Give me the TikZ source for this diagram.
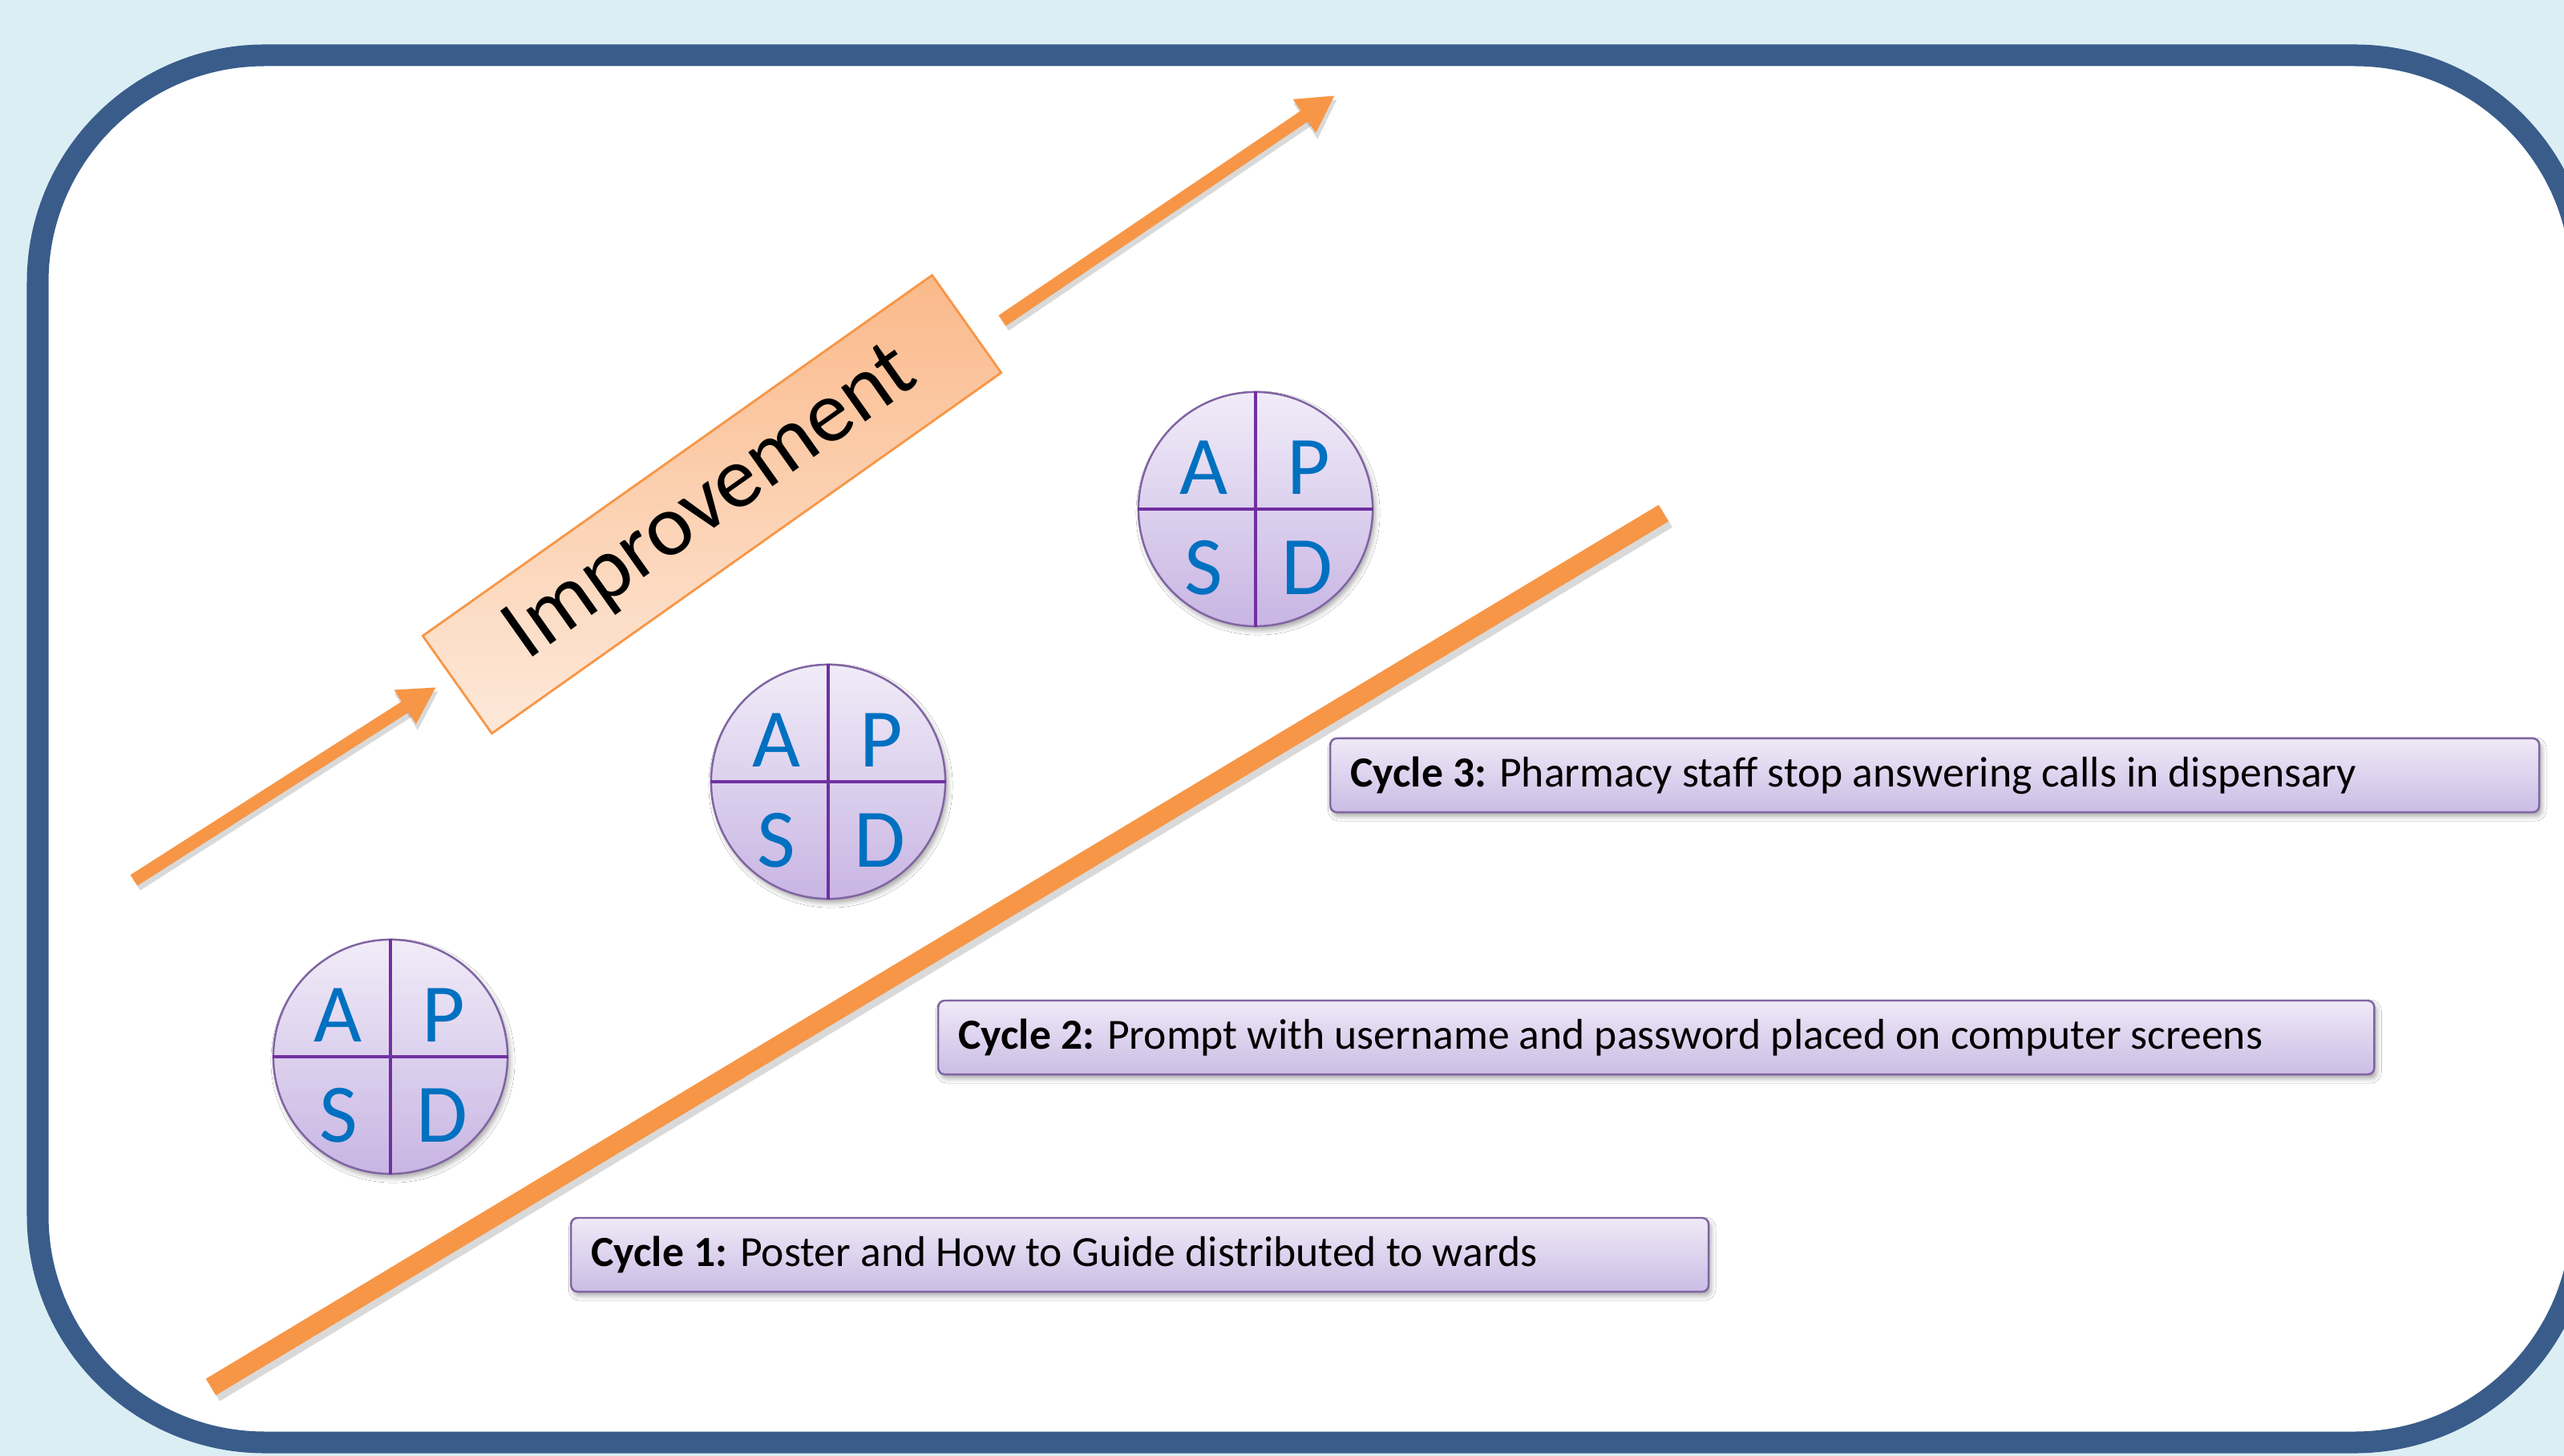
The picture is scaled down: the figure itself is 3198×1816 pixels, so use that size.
\documentclass[tikz,border=0pt]{standalone}
\usepackage{fontspec}
\setmainfont{Carlito}
\usetikzlibrary{arrows.meta,shadows.blur}
\definecolor{bgblue}{HTML}{DBEEF4}
\definecolor{frameblue}{HTML}{395C8A}
\definecolor{orng}{HTML}{F79646}
\definecolor{impTop}{HTML}{FAB98A}
\definecolor{impBot}{HTML}{FDE9DA}
\definecolor{cirTop}{HTML}{F1ECF8}
\definecolor{cirBot}{HTML}{C8B5E3}
\definecolor{cirLine}{HTML}{8064A2}
\definecolor{crossLine}{HTML}{7030A0}
\definecolor{pdsaBlue}{HTML}{0070C0}
\definecolor{lblTop}{HTML}{EFEAF7}
\definecolor{lblBot}{HTML}{CBBCE5}
\newcommand{\lbltext}[2]{\makebox[#1][l]{#2}}
\tikzset{
  softshadow/.style={blur shadow={shadow xshift=0.03cm, shadow yshift=-0.05cm, shadow blur radius=0.06cm, shadow opacity=35}},
  impbox/.style={rotate=35.3, minimum width=7.78cm, minimum height=1.49cm, inner sep=0pt,
    draw=orng, line width=0.8pt, top color=impTop, bottom color=impBot,
    font=\fontsize{31}{37}\selectfont, text=black},
  pdsa/.style={circle, minimum size=2.92cm, inner sep=0pt, draw=cirLine, line width=0.7pt,
    top color=cirTop, bottom color=cirBot, softshadow},
  cross/.style={crossLine, line width=0.9pt},
  letter/.style={inner sep=0pt, text=pdsaBlue, font=\fontsize{29.5}{35}\selectfont},
  lbl/.style={rectangle, rounded corners=0.08cm, draw=cirLine, line width=0.7pt,
    top color=lblTop, bottom color=lblBot, minimum height=0.92cm, inner xsep=0.25cm,
    inner ysep=0pt, anchor=west, text=black, font=\fontsize{15.25}{18}\selectfont, softshadow},
  orangearrow/.style={orng, line width=0.16cm, -{Triangle[width=0.47cm,length=0.46cm]}},
  arrowshadow/.style={black, opacity=0.15, line width=0.18cm, -{Triangle[width=0.5cm,length=0.48cm]}},
  growline/.style={orng, line width=0.24cm},
  lineshadow/.style={black, opacity=0.15, line width=0.27cm}
}
\begin{document}
\begin{tikzpicture}[x=0.01cm,y=-0.01cm]
\fill[bgblue] (0,0) rectangle (3198,1816);
\useasboundingbox (0,0) rectangle (3198,1816);
\clip (0,0) rectangle (3198,1816);
% frame
\draw[frameblue, line width=0.27cm, fill=white, rounded corners=2.83cm] (47,69) rectangle (3220,1799);

% big orange line
\coordinate (lineA) at (263,1730);
\coordinate (lineB) at (2075,640);
\coordinate (lineAs) at (267,1736);
\coordinate (lineBs) at (2079,646);
\draw[lineshadow] (lineAs) -- (lineBs);
\draw[growline] (lineA) -- (lineB);

% arrows
\coordinate (a1s) at (167,1098);
\coordinate (a1e) at (544,857);
\coordinate (a1ss) at (170,1103);
\coordinate (a1es) at (547,862);
\coordinate (a2s) at (1250,400);
\coordinate (a2e) at (1665,119);
\coordinate (a2ss) at (1253,405);
\coordinate (a2es) at (1668,124);
\draw[arrowshadow] (a1ss) -- (a1es);
\draw[orangearrow] (a1s) -- (a1e);
\draw[arrowshadow] (a2ss) -- (a2es);
\draw[orangearrow] (a2s) -- (a2e);

% Improvement box
\node[impbox] (imp) at (888,629) {Improvement};

% PDSA circles
\foreach \n/\x/\y in {c1/487/1318, c2/1033/975, c3/1566/635}{
  \node[pdsa] (\n) at (\x,\y) {};
  \draw[cross] (\n.north) -- (\n.south);
  \draw[cross] (\n.west) -- (\n.east);
  \node[letter] (\n a) at ([shift={(-65,-52)}]\n.center) {A};
  \node[letter] (\n p) at ([shift={(66,-52)}]\n.center) {P};
  \node[letter] (\n s) at ([shift={(-65,73)}]\n.center) {S};
  \node[letter] (\n d) at ([shift={(64,73)}]\n.center) {D};
}

% labels
\node[lbl] (cyc1) at (711,1565) {\lbltext{13.68cm}{\textbf{Cycle 1:} Poster and How to Guide distributed to wards}};
\node[lbl] (cyc2) at (1169,1294) {\lbltext{17.40cm}{\textbf{Cycle 2:} Prompt with username and password placed on computer screens}};
\node[lbl] (cyc3) at (1658,967) {\lbltext{14.57cm}{\textbf{Cycle 3:} Pharmacy staff stop answering calls in dispensary}};
\end{tikzpicture}
\end{document}
